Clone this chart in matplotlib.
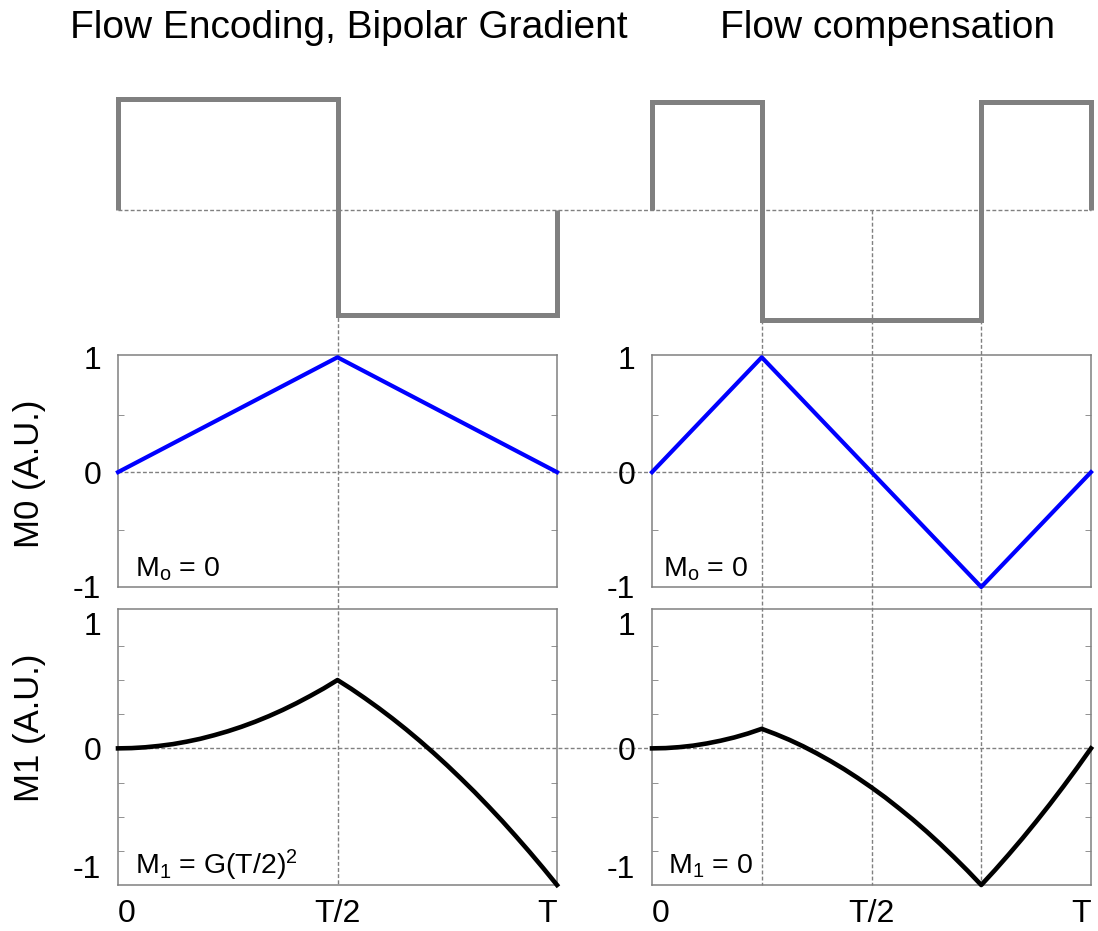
import numpy as np
import matplotlib
matplotlib.use("Agg")
import matplotlib.pyplot as plt
from matplotlib.lines import Line2D
from matplotlib.transforms import blended_transform_factory

plt.rcParams['font.family'] = ['Liberation Sans', 'DejaVu Sans']

# gradient lobes (time in units of T)
grad_fe_edges = [0, 0.5, 1]
grad_fe_amp = [1.01, -0.95]
grad_fc_edges = [0, 0.25, 0.75, 1]
grad_fc_amp = [0.98, -1.0, 0.98]

# zeroth moment
m0_fe_t = [0, 0.5, 1]
m0_fe = [0, 1, 0]
m0_fc_t = [0, 0.25, 0.75, 1]
m0_fc = [0, 1, -1, 0]

m1_t = np.linspace(0, 1, 33)
m1_fe = [0, 0.002, 0.008, 0.018, 0.031, 0.049, 0.07, 0.096, 0.125,
         0.158, 0.195, 0.236, 0.281, 0.33, 0.383, 0.439, 0.5,
         0.436, 0.367, 0.295, 0.219, 0.139, 0.055, -0.033, -0.125,
         -0.221, -0.32, -0.424, -0.531, -0.643, -0.758, -0.877, -1.0]
m1_fc = [0, 0.002, 0.009, 0.02, 0.036, 0.056, 0.08, 0.109, 0.143,
         0.105, 0.063, 0.016, -0.036, -0.092, -0.152, -0.217, -0.286,
         -0.359, -0.438, -0.52, -0.607, -0.699, -0.795, -0.895, -1.0,
         -0.891, -0.777, -0.659, -0.536, -0.409, -0.277, -0.141, 0]

titles = ["Flow Encoding, Bipolar Gradient", "Flow compensation"]
m0_notes = [r"$\mathregular{M_o}$ = 0", r"$\mathregular{M_o}$ = 0"]
m1_notes = [r"$\mathregular{M_1}$ = G(T/2)$\mathregular{^2}$", r"$\mathregular{M_1}$ = 0"]
x_ticklabels = ["0", "T/2", "T"]
y_ticklabels = ["-1", "0", "1"]

W, H = 1098, 931
GRAY = "#808080"

fig = plt.figure(figsize=(W / 100, H / 100), dpi=100)


def box(x0, y0, x1, y1):
    return [x0 / W, 1 - y1 / H, (x1 - x0) / W, (y1 - y0) / H]


col_x = [(118, 557), (652, 1091)]
top_axes, mid_axes, bot_axes = [], [], []
for x0, x1 in col_x:
    top_axes.append(fig.add_axes(box(x0, 89, x1, 331)))
    mid_axes.append(fig.add_axes(box(x0, 355, x1, 587)))
    bot_axes.append(fig.add_axes(box(x0, 609, x1, 885)))

# gradient waveforms
for ax, edges, amp in [(top_axes[0], grad_fe_edges, grad_fe_amp),
                       (top_axes[1], grad_fc_edges, grad_fc_amp)]:
    ax.stairs(amp, edges, baseline=0, color=GRAY, lw=3.6, clip_on=False)
    ax.set_xlim(0, 1)
    ax.set_ylim(-1.1, 1.1)
    ax.axis("off")
    ax.patch.set_facecolor("none")


def style_panel(ax, minor, bottom):
    ax.set_xlim(0, 1)
    ax.set_ylim(-1.0, 1.02)
    ax.patch.set_facecolor("none")
    for s in ax.spines.values():
        s.set_color(GRAY)
        s.set_linewidth(1.1)
    ax.set_yticks([-1, 0, 1])
    ax.set_yticklabels(y_ticklabels)
    ax.set_yticks(minor, minor=True)
    ax.tick_params(axis="y", which="major", length=0, pad=12, labelsize=23)
    ax.tick_params(axis="y", which="minor", direction="in", length=4,
                   color=GRAY, left=True, right=True)
    ax.tick_params(axis="x", which="both", length=0)
    if bottom:
        ax.set_xticks([0, 0.5, 1])
        ax.set_xticklabels(x_ticklabels)
        ax.tick_params(axis="x", pad=10, labelsize=23)
        labs = ax.get_xticklabels()
        labs[0].set_ha("left")
        labs[2].set_ha("right")
        ylabs = ax.get_yticklabels()
        ylabs[0].set_va("bottom")
        ylabs[2].set_va("top")
    else:
        ax.set_xticks([])


for i in range(2):
    style_panel(mid_axes[i], [-0.5, 0.5], False)
    style_panel(bot_axes[i], [-0.75, -0.5, -0.25, 0.25, 0.5, 0.75], True)

mid_axes[0].plot(m0_fe_t, m0_fe, color="blue", lw=3, clip_on=False, zorder=3)
mid_axes[1].plot(m0_fc_t, m0_fc, color="blue", lw=3, clip_on=False, zorder=3)
bot_axes[0].plot(m1_t, m1_fe, color="black", lw=3.3, clip_on=False, zorder=3)
bot_axes[1].plot(m1_t, m1_fc, color="black", lw=3.3, clip_on=False, zorder=3)

for i in range(2):
    mid_axes[i].text(0.039 if i == 0 else 0.025, 0.045, m0_notes[i],
                     transform=mid_axes[i].transAxes, fontsize=20.5, va="baseline")
    bot_axes[i].text(0.039 if i == 0 else 0.036, 0.04, m1_notes[i],
                     transform=bot_axes[i].transAxes, fontsize=20.5, va="baseline")

# dashed guide lines
dash = dict(color=GRAY, lw=1.0, dashes=(2.8, 1.6), zorder=-1)
x_left = top_axes[0].get_position().x0
x_right = top_axes[1].get_position().x1
for ax in [top_axes[0], mid_axes[0], bot_axes[0]]:
    tr = blended_transform_factory(fig.transFigure, ax.transData)
    fig.add_artist(Line2D([x_left, x_right], [0, 0], transform=tr, **dash))


def fig_y(ax, y):
    p = ax.transData.transform((0, y))
    return fig.transFigure.inverted().transform(p)[1]


y_bottom = bot_axes[0].get_position().y0
for col, xs, y_start in [(0, [0.5], [0.3]), (1, [0.25, 0.5, 0.75], [0, 0, 0])]:
    for x, ys in zip(xs, y_start):
        tr = blended_transform_factory(bot_axes[col].transData, fig.transFigure)
        fig.add_artist(Line2D([x, x], [fig_y(top_axes[col], ys), y_bottom],
                              transform=tr, **dash))

# titles and axis labels
fig.text(349 / W, 1 - 28 / H, titles[0], fontsize=28, ha="center", va="center")
fig.text(887 / W, 1 - 28 / H, titles[1], fontsize=28, ha="center", va="center")
fig.text(30 / W, 1 - 474 / H, "M0 (A.U.)", fontsize=25, rotation=90,
         ha="center", va="center")
fig.text(30 / W, 1 - 728 / H, "M1 (A.U.)", fontsize=25, rotation=90,
         ha="center", va="center")

fig.savefig("out.png", dpi=100)
